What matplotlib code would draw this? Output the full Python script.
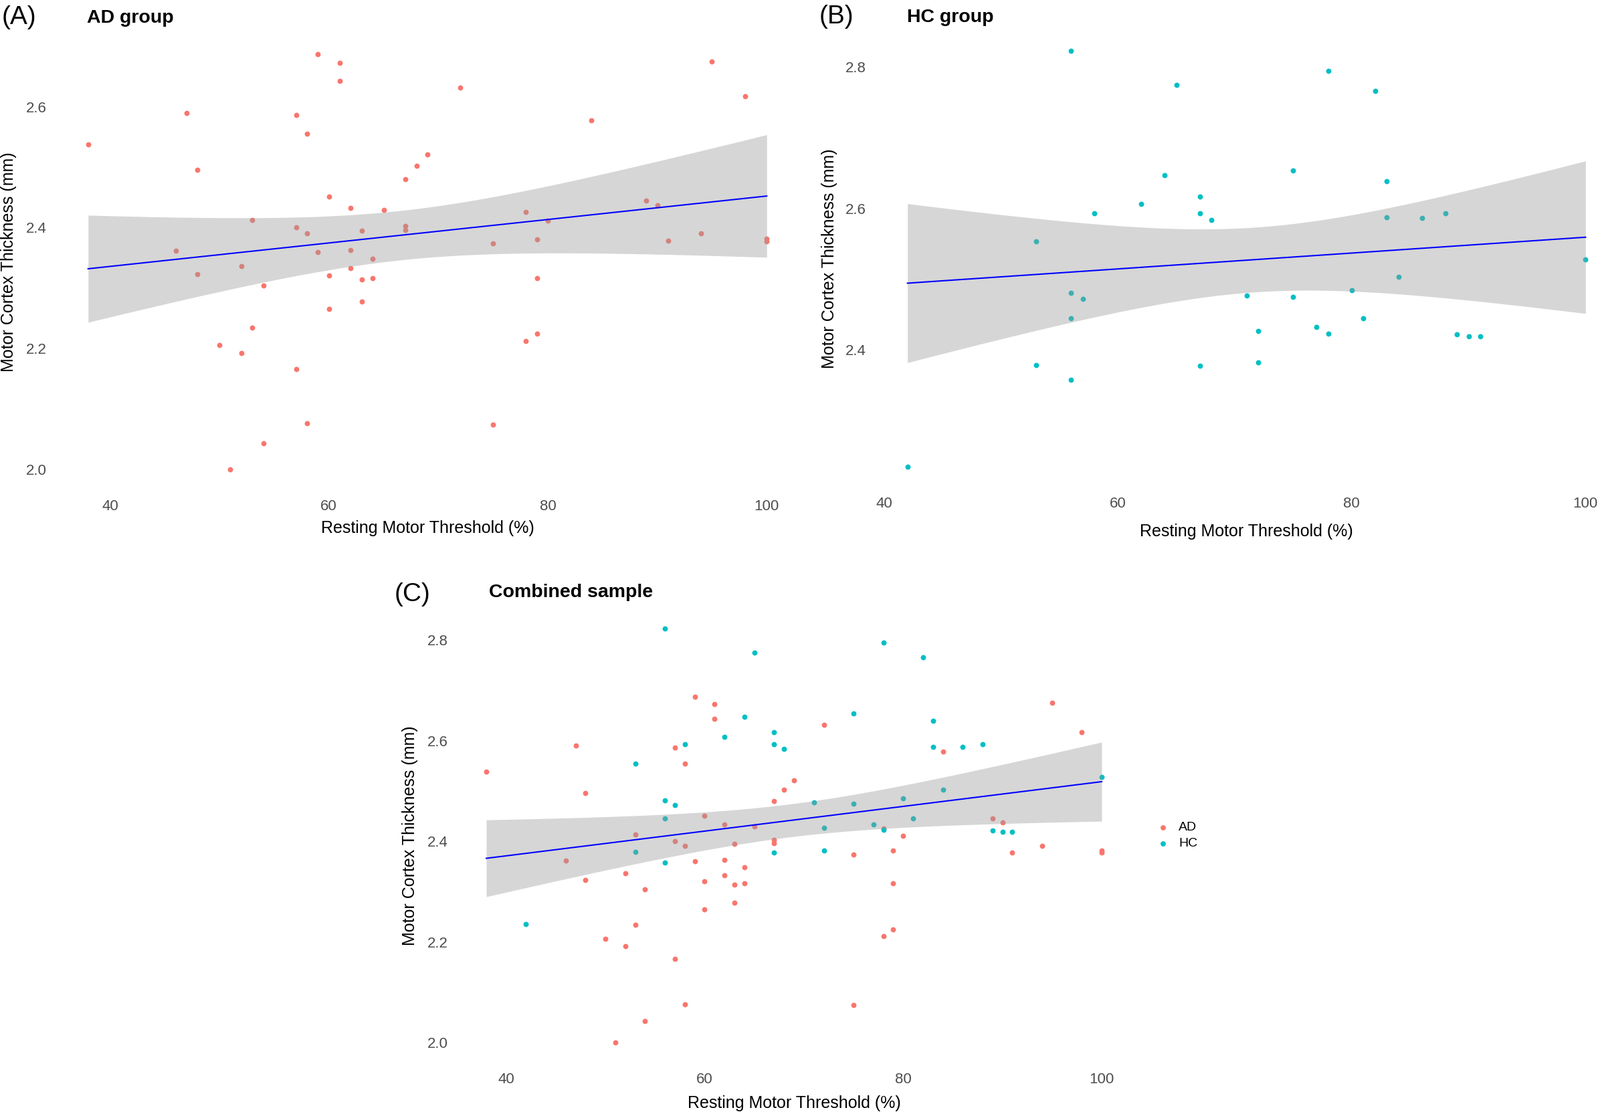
import numpy as np
import matplotlib
matplotlib.use("Agg")
import matplotlib.pyplot as plt

plt.rcParams['font.family'] = ['Liberation Sans', 'DejaVu Sans']

# ---- data ----
# AD group: resting motor threshold (%) and motor cortex thickness (mm)
ad_rmt = [38, 46, 47, 48, 48, 50, 51, 52, 52, 53, 53, 54, 54, 57, 57, 57, 58, 58, 58,
          59, 59, 60, 60, 60, 61, 61, 62, 62, 62, 63, 63, 63, 64, 64, 65, 67, 67, 67,
          68, 69, 72, 75, 75, 78, 78, 79, 79, 79, 80, 84, 89, 90, 91, 94, 95, 98, 100, 100]
ad_thick = [2.538, 2.362, 2.590, 2.496, 2.323, 2.206, 2.000, 2.336, 2.192, 2.413, 2.234,
            2.304, 2.043, 2.586, 2.400, 2.166, 2.555, 2.391, 2.076, 2.687, 2.360, 2.451,
            2.321, 2.265, 2.673, 2.643, 2.433, 2.363, 2.333, 2.395, 2.314, 2.278, 2.349,
            2.316, 2.429, 2.480, 2.403, 2.396, 2.502, 2.521, 2.632, 2.374, 2.074, 2.426,
            2.212, 2.381, 2.316, 2.225, 2.411, 2.578, 2.445, 2.437, 2.378, 2.391, 2.675,
            2.617, 2.382, 2.377]

# HC group
hc_rmt = [42, 53, 53, 56, 56, 56, 56, 57, 58, 62, 64, 65, 67, 67, 67, 68, 71, 72,
          72, 75, 75, 77, 78, 78, 80, 81, 82, 83, 83, 84, 86, 88, 89, 90, 91, 100]
hc_thick = [2.235, 2.554, 2.379, 2.823, 2.481, 2.445, 2.358, 2.472, 2.593, 2.607, 2.647,
            2.775, 2.617, 2.593, 2.378, 2.584, 2.477, 2.427, 2.382, 2.654, 2.475, 2.433,
            2.795, 2.423, 2.485, 2.445, 2.766, 2.639, 2.588, 2.503, 2.587, 2.593, 2.422,
            2.419, 2.419, 2.528]

groups = ['AD', 'HC']
AD_COLOR = '#F8766D'
HC_COLOR = '#00BFC4'

W, H = 2392, 1663
fig = plt.figure(figsize=(W / 100, H / 100), dpi=100)


def t975(df):
    # Cornish-Fisher approximation of the 97.5% t quantile
    z = 1.959964
    return (z + (z**3 + z) / (4 * df) + (5 * z**5 + 16 * z**3 + 3 * z) / (96 * df**2)
            + (3 * z**7 + 19 * z**5 + 17 * z**3 - 15 * z) / (384 * df**3))


def lm_band(x, y, n=80):
    x = np.asarray(x, float)
    y = np.asarray(y, float)
    b, a = np.polyfit(x, y, 1)
    res = y - (a + b * x)
    dof = len(x) - 2
    s = np.sqrt(np.sum(res**2) / dof)
    xs = np.linspace(x.min(), x.max(), n)
    se = s * np.sqrt(1 / len(x) + (xs - x.mean())**2 / np.sum((x - x.mean())**2))
    fit = a + b * xs
    t = t975(dof)
    return xs, fit, fit - t * se, fit + t * se


def expand(v, mult=0.05):
    lo, hi = min(v), max(v)
    r = hi - lo
    return lo - mult * r, hi + mult * r


def add_panel(box, xs_list, ys_list, colors, yticks):
    # box in image pixels: left, top, right, bottom
    l, t, r, b = box
    ax = fig.add_axes([l / W, 1 - b / H, (r - l) / W, (b - t) / H])
    allx = [v for xs in xs_list for v in xs]
    ally = [v for ys in ys_list for v in ys]
    for xs, ys, c in zip(xs_list, ys_list, colors):
        ax.scatter(xs, ys, s=32, color=c, linewidths=0, zorder=2)
    xs, fit, lo, hi = lm_band(allx, ally)
    ax.fill_between(xs, lo, hi, color='#999999', alpha=0.4, linewidth=0, zorder=3)
    ax.plot(xs, fit, color='#0000FF', lw=1.5, zorder=4)
    ax.set_xlim(*expand(allx))
    ax.set_ylim(*expand(ally))
    ax.set_xticks([40, 60, 80, 100])
    ax.set_yticks(yticks)
    ax.set_yticklabels(['%.1f' % v for v in yticks])
    for sp in ax.spines.values():
        sp.set_visible(False)
    ax.tick_params(length=0, labelsize=16, labelcolor='#4D4D4D', pad=8)
    ax.tick_params(axis='x', pad=10)
    ax.patch.set_alpha(0)
    return ax


def px_text(x, y, s, **kw):
    fig.text(x / W, 1 - y / H, s, **kw)


# panel A
axA = add_panel((81, 50, 1197, 733), [ad_rmt], [ad_thick], [AD_COLOR], [2.0, 2.2, 2.4, 2.6])
# panel B (runs a little past the right edge, as in the source)
axB = add_panel((1306, 45, 2421, 729), [hc_rmt], [hc_thick], [HC_COLOR], [2.4, 2.6, 2.8])
# panel C
axC = add_panel((681, 909, 1693, 1590), [ad_rmt, hc_rmt], [ad_thick, hc_thick],
                [AD_COLOR, HC_COLOR], [2.0, 2.2, 2.4, 2.6, 2.8])

# titles and tags
tag_kw = dict(fontsize=28, va='baseline', ha='left')
ttl_kw = dict(fontsize=20.5, fontweight='bold', va='baseline', ha='left')
px_text(3, 36, '(A)', **tag_kw)
px_text(130, 34, 'AD group', **ttl_kw)
px_text(1225, 35, '(B)', **tag_kw)
px_text(1356, 33, 'HC group', **ttl_kw)
px_text(590, 899, '(C)', **tag_kw)
px_text(731, 893, 'Combined sample', **ttl_kw)

# axis titles
lab_kw = dict(fontsize=18, ha='center', va='center')
px_text(639, 790, 'Resting Motor Threshold (%)', **lab_kw)
px_text(1863, 795, 'Resting Motor Threshold (%)', **lab_kw)
px_text(1187, 1650, 'Resting Motor Threshold (%)', **lab_kw)
px_text(13, 392, 'Motor Cortex Thickness (mm)', rotation=90, **lab_kw)
px_text(1240, 387, 'Motor Cortex Thickness (mm)', rotation=90, **lab_kw)
px_text(613, 1250, 'Motor Cortex Thickness (mm)', rotation=90, **lab_kw)

# legend for panel C
for yy, name in zip([1238, 1262], groups):
    px_text(1762, yy, name, fontsize=14, ha='left', va='center')
legax = fig.add_axes([0, 0, 1, 1], facecolor='none')
legax.set_xlim(0, W)
legax.set_ylim(H, 0)
legax.axis('off')
legax.scatter([1739, 1739], [1238, 1262], s=32, color=[AD_COLOR, HC_COLOR], linewidths=0)

fig.savefig('out.png', dpi=100, facecolor='white')
